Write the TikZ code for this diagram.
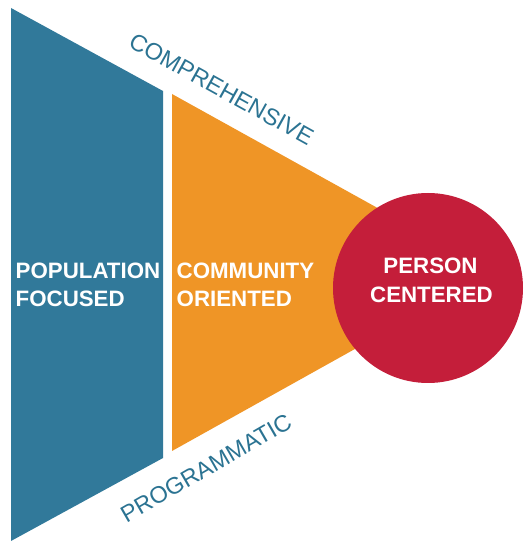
\documentclass[tikz,border=0pt]{standalone}
\usepackage{fontspec}
\setmainfont{Liberation Sans}
\definecolor{cblue}{HTML}{31799A}
\definecolor{corange}{HTML}{EF9526}
\definecolor{cred}{HTML}{C41E3A}
\definecolor{ctext}{HTML}{2B7392}
\tikzset{
  lbl/.style={inner sep=0pt, text=white, font=\bfseries\fontsize{22.3}{26}\selectfont},
  side/.style={inner sep=0pt, text=ctext, font=\fontsize{23.5}{28}\selectfont},
}
\begin{document}
\begin{tikzpicture}[x=1pt,y=1pt]
\useasboundingbox (0,0) rectangle (524,542);
% shapes
\fill[cblue] (11,534) -- (163,451) -- (163,84) -- (11,1) -- cycle;
\fill[corange] (172,448) -- (493,270) -- (172,91) -- cycle;
\fill[cred] (428,254) circle[radius=95];
% labels
\node[lbl, anchor=base west] (pop1) at (15.5,263.7) {POPULATION};
\node[lbl, anchor=base west] (pop2) at (15.5,235.3) {FOCUSED};
\node[lbl, anchor=base west] (com1) at (176.5,263.2) {COMMUNITY};
\node[lbl, anchor=base west] (com2) at (176.5,235) {ORIENTED};
\node[lbl, anchor=base] (per1) at (430.5,268) {PERSON};
\node[lbl, anchor=base] (per2) at (431.5,239) {CENTERED};
\node[side, rotate=-29] (comp) at (221.5,453) {COMPREHENSIVE};
\node[side, rotate=30] (prog) at (206,74) {PROGRAMMATIC};
\end{tikzpicture}
\end{document}
